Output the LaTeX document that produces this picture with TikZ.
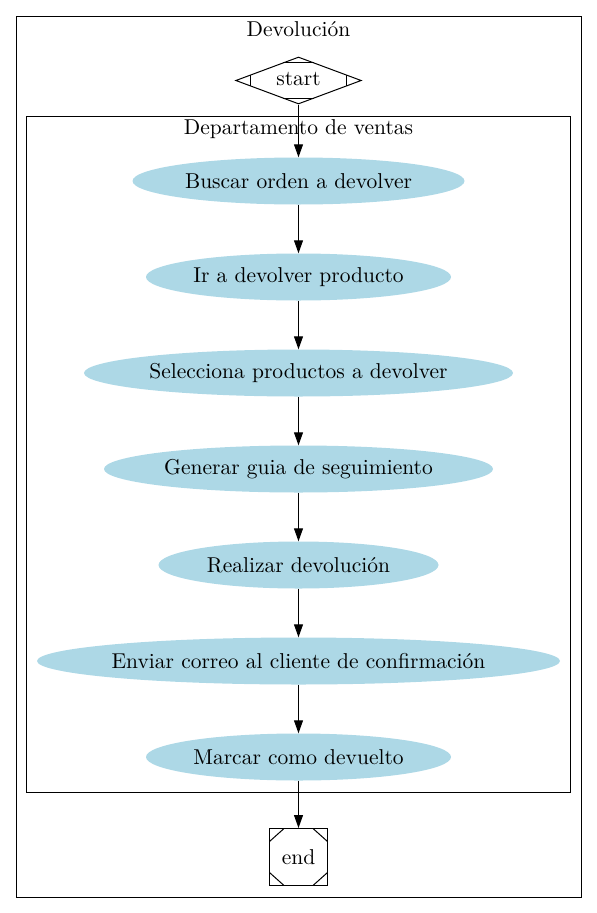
\documentclass[tikz,border=0pt]{standalone}
\usepackage{fontspec}
\setmainfont{lmroman10-regular}[Extension=.otf]
\usetikzlibrary{shapes.geometric,arrows.meta}
\definecolor{lblue}{RGB}{173,216,230}
\begin{document}
\begin{tikzpicture}[x=1pt,y=-1pt,
  every node/.style={font=\fontsize{21.5}{25}\selectfont},
  task/.style={ellipse,fill=lblue,inner ysep=0pt,inner xsep=-30pt,minimum height=47pt},
  cluster/.style={draw,line width=1pt},
  mline/.style={line width=1pt},
  arr/.style={-{Stealth[length=13pt,width=9pt,inset=0pt]},line width=1pt}]
\useasboundingbox (0,0) rectangle (597,913);
\draw[cluster] (16,16) rectangle (581,897);
\node (t1) at (298.5,29.5) {Devolución};
\draw[cluster] (26,116) rectangle (570,792);
\node (t2) at (298.5,129) {Departamento de ventas};
% start Mdiamond
\node[diamond,draw,mline,minimum width=125.6pt,minimum height=47pt,inner sep=0pt,aspect=2.67] (start) at (298.5,80.5) {};
\node at (298.5,79.5) {start};
\draw[mline] (250.5,75.3) -- (250.5,85.7);
\draw[mline] (346.5,75.3) -- (346.5,85.7);
\draw[mline] (283,62.7) -- (314,62.7);
\draw[mline] (283,98.3) -- (314,98.3);
% tasks
\node[task,minimum width=332pt] (a) at (298.5,181) {Buscar orden a devolver};
\node[task,minimum width=305pt] (b) at (298.5,277) {Ir a devolver producto};
\node[task,minimum width=429pt] (c) at (298.5,373) {Selecciona productos a devolver};
\node[task,minimum width=389pt] (d) at (298.5,469) {Generar guia de seguimiento};
\node[task,minimum width=280pt] (e) at (298.5,565) {Realizar devolución};
\node[task,minimum width=523pt] (f) at (298.5,661) {Enviar correo al cliente de confirmación};
\node[task,minimum width=305pt] (g) at (298.5,757) {Marcar como devuelto};
% end Msquare
\node[draw,mline,minimum width=58pt,minimum height=57pt,inner sep=0pt] (end) at (298.5,857) {end};
\draw[mline] (269.5,841.5) -- (284,828.5);
\draw[mline] (313,828.5) -- (327.5,841.5);
\draw[mline] (269.5,872.5) -- (284,885.5);
\draw[mline] (313,885.5) -- (327.5,872.5);
% edges
\draw[arr] (start) -- (a);
\draw[arr] (a) -- (b);
\draw[arr] (b) -- (c);
\draw[arr] (c) -- (d);
\draw[arr] (d) -- (e);
\draw[arr] (e) -- (f);
\draw[arr] (f) -- (g);
\draw[arr] (g) -- (end);
\end{tikzpicture}
\end{document}
